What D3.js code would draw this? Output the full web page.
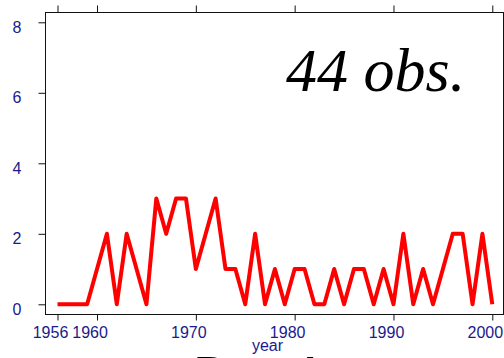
<!DOCTYPE html>
<html><head><meta charset="utf-8">
<script src="https://cdn.jsdelivr.net/npm/d3@7"></script>
<style>html,body{margin:0;padding:0;background:#fff;overflow:hidden}</style>
</head><body>
<script>
const years = d3.range(1956, 2001);
const counts = [0,0,0,0,1,2,0,2,1,0,3,2,3,3,1,2,3,1,1,0,2,0,1,0,1,1,0,0,1,0,1,1,0,1,0,2,0,1,0,1,2,2,0,2,0];
const xTicks = [1956,1960,1970,1980,1990,2000];
const yTicks = [0,2,4,6,8];
const annotation = "44 obs.";
const xLabel = "year";

const W = 504, H = 358;
const L = 45.5, R = 503.5, T = 12.5, B = 314.5;
const svg = d3.select("body").append("svg").attr("width", W).attr("height", H);
const x = d3.scaleLinear().domain([1956, 2000]).range([57.5, 492.3]);
const y = d3.scaleLinear().domain([0, 8]).range([304.3, 22.3]);
const axisCol = "#1a1a8c";

// box
svg.append("rect").attr("x", L).attr("y", T).attr("width", R - L).attr("height", B - T)
  .attr("fill", "none").attr("stroke", "#111").attr("stroke-width", 1);

function styleAxis(g){
  g.select(".domain").remove();
  g.selectAll(".tick line").attr("stroke", "#111");
  g.selectAll(".tick text").attr("fill", axisCol).attr("font-family", "Liberation Sans, Arial, sans-serif").attr("font-size", 16);
}

// bottom axis
svg.append("g").attr("transform", `translate(0,${B})`)
  .call(d3.axisBottom(x).tickValues(xTicks).tickFormat(d3.format("d")).tickSizeOuter(0).tickSize(6).tickPadding(6))
  .call(styleAxis)
  .call(g => g.selectAll(".tick text").attr("dx", -7.5));
// top axis ticks
svg.append("g").attr("transform", `translate(0,${T})`)
  .call(d3.axisTop(x).tickValues(xTicks).tickFormat("").tickSizeOuter(0).tickSize(7))
  .call(styleAxis);
// left axis
svg.append("g").attr("transform", `translate(${L},0)`)
  .call(d3.axisLeft(y).tickValues(yTicks).tickFormat(d3.format("d")).tickSizeOuter(0).tickSize(7).tickPadding(17))
  .call(styleAxis)
  .call(g => g.selectAll(".tick text").attr("dy", "0.62em").attr("text-anchor", "end"));
// right axis ticks
svg.append("g").attr("transform", `translate(${R},0)`)
  .call(d3.axisRight(y).tickValues(yTicks).tickFormat("").tickSizeOuter(0).tickSize(7))
  .call(styleAxis);

// line
const line = d3.line().x((d, i) => x(years[i])).y(d => y(d));
svg.append("path").datum(counts).attr("d", line)
  .attr("fill", "none").attr("stroke", "#ff0000").attr("stroke-width", 4)
  .attr("stroke-linejoin", "round").attr("stroke-linecap", "butt");

// annotation
svg.append("text").attr("x", 286).attr("y", 90.7)
  .attr("font-family", "Liberation Serif, Times New Roman, serif").attr("font-style", "italic")
  .attr("font-size", 62).attr("fill", "#000").text(annotation);

// x label
svg.append("text").attr("x", 267.5).attr("y", 350.6).attr("text-anchor", "middle")
  .attr("font-family", "Liberation Sans, Arial, sans-serif").attr("font-size", 16)
  .attr("fill", axisCol).text(xLabel);

// partially visible title
const titleParts = [{t: "D", x: 193}, {t: "A", x: 292}];
svg.selectAll("text.title").data(titleParts).enter().append("text").attr("class", "title")
  .attr("x", d => d.x).attr("y", 355 + 0.716 * 54)
  .attr("font-family", "Liberation Sans, Arial, sans-serif").attr("font-size", 54)
  .attr("fill", "#000").text(d => d.t);
</script>
</body></html>
